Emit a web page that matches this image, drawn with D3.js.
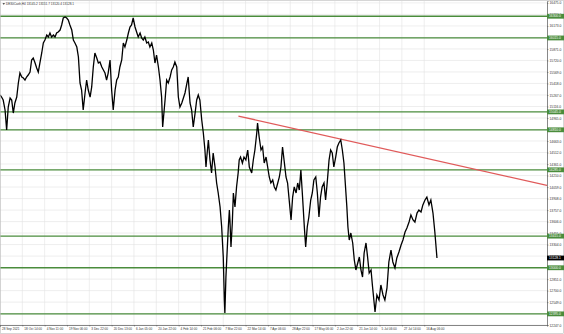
<!DOCTYPE html>
<html><head><meta charset="utf-8">
<script src="https://cdn.jsdelivr.net/npm/d3@7"></script>
<style>html,body{margin:0;padding:0;background:#fff;}svg{display:block;font-family:"Liberation Sans",Arial,sans-serif;}</style>
</head><body><svg id="c" width="564" height="334"></svg>
<script>
// ---- data ----
// [H4 bar index, price]
const priceSeries = [[0,15267],[6,15240],[12,15201],[19,15070],[25,14807],[31,15109],[38,15227],[44,15201],[50,15030],[56,15162],[63,15240],[69,15424],[75,15555],[82,15503],[88,15490],[94,15463],[100,15503],[106,15529],[113,15568],[119,15726],[125,15752],[132,15686],[138,15621],[144,15568],[150,15686],[157,15818],[163,15949],[169,15988],[176,16054],[182,16028],[188,16080],[194,16028],[201,16054],[207,16028],[213,16080],[219,16093],[226,16119],[232,16185],[238,16277],[245,16290],[251,16277],[257,16251],[263,16185],[270,16119],[276,15988],[282,15949],[289,15896],[295,15765],[301,15424],[307,15332],[313,15070],[320,15293],[326,15463],[332,15332],[339,15240],[345,15372],[351,15634],[357,15818],[364,15752],[370,15686],[376,15700],[383,15634],[389,15595],[395,15555],[401,15463],[407,15555],[414,15726],[420,15332],[426,15070],[433,15332],[439,15463],[445,15503],[451,15634],[458,15726],[464,15949],[470,15896],[477,15988],[483,16080],[489,16159],[495,16185],[501,16277],[508,16159],[514,16093],[520,16028],[527,16080],[533,16014],[539,15988],[545,16028],[552,15949],[558,15962],[564,15896],[571,15949],[577,15857],[583,15686],[589,15791],[596,15634],[602,15463],[608,15240],[612,14847],[621,15201],[627,15463],[633,15424],[640,15503],[646,15595],[652,15634],[658,15700],[665,15634],[671,15240],[677,15109],[684,15162],[690,15227],[696,15293],[702,15398],[708,15503],[715,15162],[721,15070],[727,14847],[734,15030],[740,15201],[746,15267],[752,15201],[759,14939],[765,14768],[771,14545],[775,14322],[778,14453],[784,14676],[790,14414],[796,14243],[802,14506],[809,14322],[815,14112],[821,13981],[828,13797],[834,13535],[840,13141],[844,12577],[846,12407],[850,12879],[853,13102],[859,13535],[863,13758],[865,13627],[869,13272],[874,13587],[878,13981],[884,13797],[890,14060],[896,14243],[900,14414],[905,14453],[912,14374],[918,14453],[925,14414],[932,14545],[938,14322],[947,14243],[953,14414],[959,14545],[966,14768],[969,14899],[975,14716],[982,14545],[988,14584],[994,14374],[1001,14453],[1007,14322],[1013,14191],[1019,14112],[1026,14151],[1032,14060],[1038,14020],[1045,14112],[1051,14191],[1057,14322],[1063,14584],[1070,14374],[1076,14191],[1082,14112],[1088,13889],[1095,13627],[1101,13928],[1107,14060],[1114,13981],[1120,14112],[1126,14020],[1132,14283],[1139,13889],[1145,13535],[1150,13272],[1156,13535],[1162,13666],[1169,13889],[1175,13981],[1181,14151],[1188,14191],[1194,13981],[1200,13666],[1206,13928],[1212,14060],[1219,14112],[1225,13889],[1231,14112],[1238,14414],[1244,14545],[1250,14506],[1256,14322],[1263,14453],[1269,14584],[1275,14637],[1282,14676],[1288,14545],[1294,14374],[1300,14060],[1305,13797],[1309,13535],[1314,13364],[1320,13456],[1327,13325],[1333,13102],[1339,12971],[1346,13063],[1352,13141],[1358,12971],[1364,12879],[1370,13194],[1377,13325],[1383,13141],[1389,12931],[1396,12971],[1401,12774],[1411,12420],[1418,12643],[1426,12577],[1433,12774],[1441,12643],[1448,12577],[1456,12735],[1463,13076],[1471,13233],[1478,13076],[1486,12997],[1493,13128],[1501,13207],[1509,13299],[1516,13364],[1524,13469],[1531,13522],[1539,13600],[1546,13692],[1554,13627],[1561,13600],[1569,13718],[1576,13758],[1584,13732],[1591,13824],[1599,13889],[1606,13928],[1614,13824],[1621,13889],[1629,13718],[1636,13469],[1644,13128]];
const dateLabels = ["28 Sep 2021","18 Oct 14:00","4 Nov 11:00","19 Nov 06:00","3 Dec 22:00","20 Dec 13:00","6 Jan 05:00","20 Jan 22:00","4 Feb 14:00","21 Feb 06:00","7 Mar 22:00","22 Mar 14:00","7 Apr 06:00","28 Apr 22:00","17 May 06:00","2 Jun 22:00","21 Jun 14:00","5 Jul 06:00","27 Jul 14:00","16 Aug 06:00"];
const dateBars = [0,84,168,252,336,420,504,588,672,756,840,924,1008,1092,1176,1260,1344,1428,1512,1596];
const priceTicks = [16475,16324,16173,16022,15871,15720,15569,15418,15267,15116,14965,14814,14663,14512,14361,14210,14059,13908,13757,13606,13455,13304,13153,13002,12851,12700,12549,12398,12247];
const levelPrices = [16300,16015,15045,14810,14285,13415,13000,12395];
const trendBars = [897, 2058];
const trendPrices = [14990, 14080];
const lastPrice = 13128.1;
const titleText = "DE30Cash,H4  13145.2 13151.7 13120.4 13128.1";

// ---- layout ----
const W = 564, H = 334;
const L = 0, R = 547, T = 1, B = 325;
const svg = d3.select("#c");
const x = d3.scaleLinear().domain([0, 2058]).range([L, R]);
const y = d3.scaleLinear().domain([12249, 16500]).range([B, T]);
const fs = 3.3;
const FONT = "Liberation Sans, Arial, sans-serif";

svg.append("rect").attr("width", W).attr("height", H).attr("fill", "#fff");

// grid
const grid = svg.append("g").attr("stroke", "#e2e2e2").attr("stroke-width", 0.6);
grid.selectAll("line.h").data(priceTicks).join("line")
  .attr("x1", L).attr("x2", R).attr("y1", d => y(d)).attr("y2", d => y(d));
grid.selectAll("line.v").data(dateBars).join("line")
  .attr("x1", d => x(d)).attr("x2", d => x(d)).attr("y1", T).attr("y2", B);

svg.append("defs").append("clipPath").attr("id", "clip")
  .append("rect").attr("x", L).attr("y", T).attr("width", R - L).attr("height", B - T);

// level lines
svg.append("g").selectAll("line").data(levelPrices).join("line")
  .attr("x1", L).attr("x2", R).attr("y1", d => y(d)).attr("y2", d => y(d))
  .attr("stroke", "#4a8c3c").attr("stroke-width", 1.3);

// trend line
svg.append("line").attr("clip-path", "url(#clip)")
  .attr("x1", x(trendBars[0])).attr("y1", y(trendPrices[0]))
  .attr("x2", x(trendBars[1])).attr("y2", y(trendPrices[1]))
  .attr("stroke", "#e05a5a").attr("stroke-width", 1.3);

// price line
const line = d3.line().x(d => x(d[0])).y(d => y(d[1]));
svg.append("path").datum(priceSeries).attr("clip-path", "url(#clip)")
  .attr("d", line).attr("fill", "none").attr("stroke", "#000")
  .attr("stroke-width", 1.3).attr("stroke-linejoin", "miter");

// frame
svg.append("rect").attr("x", 0.5).attr("y", 0.5).attr("width", W - 1).attr("height", H - 1)
  .attr("fill", "none").attr("stroke", "#bbb").attr("stroke-width", 0.6);

// right axis
const ay = svg.append("g").attr("transform", `translate(${R},0)`)
  .call(d3.axisRight(y).tickValues(priceTicks).tickFormat(d3.format(".1f")).tickSize(1.5).tickPadding(1));
ay.select(".domain").attr("stroke", "#555").attr("stroke-width", 0.7);
ay.selectAll(".tick line").attr("stroke", "#555").attr("stroke-width", 0.5);
ay.selectAll("text").attr("font-size", fs).attr("fill", "#333").attr("font-family", FONT);

// bottom axis
const ax = svg.append("g").attr("transform", `translate(0,${B})`)
  .call(d3.axisBottom(x).tickValues(dateBars).tickFormat((d, i) => dateLabels[i]).tickSize(1.5).tickPadding(1.5));
ax.select(".domain").attr("stroke", "#555").attr("stroke-width", 0.7);
ax.selectAll(".tick line").attr("stroke", "#555").attr("stroke-width", 0.5);
ax.selectAll("text").attr("font-size", 3.1).attr("fill", "#333").attr("text-anchor", "start")
  .attr("x", 1.5).attr("font-family", FONT);

// level price tags
const tags = svg.append("g").selectAll("g").data(levelPrices).join("g")
  .attr("transform", d => `translate(${R},${y(d)})`);
tags.append("rect").attr("x", 0).attr("y", -2.4).attr("width", W - R).attr("height", 4.8).attr("fill", "#4a8c3c");
tags.append("text").attr("x", 2).attr("dy", "0.35em").attr("font-size", fs).attr("fill", "#fff")
  .attr("font-family", FONT).text(d => d3.format(".1f")(d));

// last price tag
const lp = svg.append("g").attr("transform", `translate(${R},${y(lastPrice)})`);
lp.append("rect").attr("x", 0).attr("y", -2.4).attr("width", W - R).attr("height", 4.8).attr("fill", "#000");
lp.append("text").attr("x", 2).attr("dy", "0.35em").attr("font-size", fs).attr("fill", "#fff")
  .attr("font-family", FONT).text(d3.format(".1f")(lastPrice));

// title
svg.append("path").attr("d", "M2.5,3 L5,3 L3.75,5 Z").attr("fill", "#555");
svg.append("text").attr("x", 6).attr("y", 5.2).attr("font-size", 3.1).attr("fill", "#333")
  .attr("font-family", FONT).text(titleText);
</script></body></html>
